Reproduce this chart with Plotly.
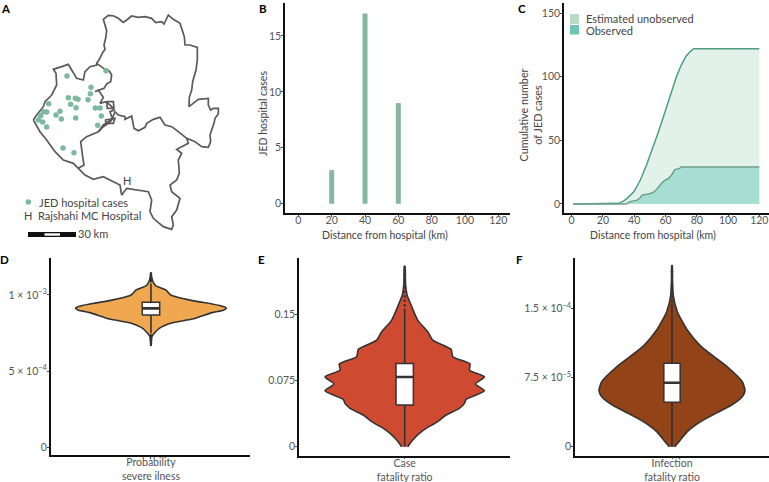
import plotly.graph_objects as go

W, H = 769, 482
FONT = "Lato"
DARK = "#333333"
GREY = "#555555"
MAP = "#5A5A5A"

# Panel A: map (coordinates in map units)
outline = [(100,360),(110,345),(130,320),(135,305),(155,285),(170,255),(168,220),(160,208),(185,200),(205,193),(215,210),(230,235),(250,240),(255,215),(270,200),(290,195),
           (290,190),(298,178),(308,158),(315,148),(312,135),(317,115),(320,92),(312,68),(310,58),(325,46),(342,48),(355,55),(370,67),(380,60),(395,48),(415,52),(435,50),(455,55),(467,68),(485,65),(492,72),(505,45),(520,58),(540,70),(547,90),(553,110),(555,135),(570,135),(592,142),(592,180),(588,210),(578,245),(575,270),(568,292),(567,320),(580,310),(595,298),(625,295),(625,315),(632,330),(640,325),(655,325),(655,342),(645,355),(642,370),(635,390),(630,405),(632,425),(625,442),(605,440),(585,425),(560,415),
           (565,430),(530,448),(545,460),(535,480),(538,520),(530,540),(510,555),(515,575),(540,595),(530,630),(515,650),(520,675),(515,688),(490,680),(460,655),(450,635),(455,600),(445,575),(415,570),(380,565),(365,585),(360,555),(340,545),(310,530),(280,538),(255,525),(235,505),(220,490),(190,480),(165,455),(140,420),(120,395),(100,360)]
inner_south = [(235,505),(252,495),(248,470),(242,425),(260,410),(295,395),(310,380),(325,370),(335,360),(345,335),(355,345),(375,350),(375,358),(395,348),(402,385),(415,392),(435,382),(440,370),(460,358),(480,352),(495,375),(515,380),(535,395),(555,410),(560,415)]
inner_north = [(290,190),(315,208),(328,213),(335,225),(332,245),(320,252),(312,265),(285,275),(295,270),(310,292),(300,310),(318,305),(335,320),(342,330),(330,335),(335,350),(340,355),(310,375),(295,395)]
loop_one = [(320,305),(340,305),(342,325),(322,325),(320,305)]
loop_two = [(315,360),(345,355),(340,370),(320,370),(315,360)]
case_x = [318,201,273,271,205,226,234,264,146,212,228,286,300,180,130,140,168,122,115,184,227,304,128,293,140,189,222]
case_y = [212,228,262,281,293,295,298,299,311,313,323,324,324,334,335,336,345,347,360,357,354,348,366,376,381,444,458]

# Panel B
bar_x = [20, 40, 60]
bar_y = [3, 17, 9]

# Panel C
est_x = [1,28,30,33,36,40,44,48,52,55,58,61,64,67,70,73,76,78,120]
est_y = [0,0,0.5,2,5,10,19,31,44,55,66,77,89,100,109,116,120,122,122]
obs_x = [1,35,36,38,42,44,45,48,50,52,54,56,58,60,62,64,66,69,70,120]
obs_y = [0,0,1,2,3,5,7,7.5,8,9,11,14,17,19,20,23,27,28,29,29]

# Panels D-F: violin profiles (value, relative density) and box statistics
d_val = [.672e-3,.726e-3,.748e-3,.781e-3,.818e-3,.842e-3,.884e-3,.90e-3,.912e-3,.924e-3,.941e-3,.963e-3,1.0e-3,1.033e-3,1.059e-3,1.087e-3,1.109e-3,1.142e-3]
d_den = [0,.013,.044,.11,.285,.548,.811,.96,1,.96,.811,.548,.263,.197,.066,.026,.013,0]
d_box = dict(q1=.869e-3, med=.912e-3, q3=.952e-3, lo=.748e-3, hi=1.076e-3)
d_out = [.672e-3,.682e-3,.695e-3,.71e-3,.725e-3,.735e-3,1.09e-3,1.10e-3,1.11e-3,1.12e-3,1.13e-3,1.142e-3]

e_val = [0,.0075,.0151,.0207,.0283,.0358,.0433,.049,.0535,.0633,.0709,.0791,.0867,.0935,.1018,.1101,.1206,.13,.1432,.1602,.1715,.1847,.2035]
e_den = [.038,.10,.184,.268,.414,.519,.686,.749,.77,1,.887,1,.812,.82,.603,.582,.351,.289,.163,.08,.03,.01,.004]
e_box = dict(q1=.0471, med=.0788, q3=.0942, lo=0, hi=.1564)
e_out = [.16,.165,.17,.175,.18,.185,.19,.195,.2,.2035]

f_val = [0,5.4e-6,1.63e-5,2.71e-5,3.79e-5,4.45e-5,5.42e-5,6.07e-5,7.05e-5,8.67e-5,1.091e-4,1.265e-4,1.464e-4,1.626e-4,1.807e-4,1.959e-4]
f_den = [.037,.096,.21,.393,.644,.804,.963,1,.963,.758,.393,.21,.073,.02,.006,.003]
f_box = dict(q1=4.81e-5, med=6.94e-5, q3=9.04e-5, lo=0, hi=1.554e-4)
f_out = [1.58e-4,1.62e-4,1.66e-4,1.7e-4,1.74e-4,1.78e-4,1.82e-4,1.86e-4,1.9e-4,1.93e-4,1.959e-4]


def dx(a, b):
    return [a / W, b / W]


def dy(top, bottom):
    return [1 - bottom / H, 1 - top / H]


FS = 10.5
fig = go.Figure()
axis_common = dict(showline=True, linecolor="#111111", linewidth=1.5, showgrid=False, zeroline=False,
                   ticks="outside", ticklen=2, tickwidth=1, tickcolor="#444444",
                   tickfont=dict(family=FONT, size=FS, color=GREY))

# --- A
for part in [outline, inner_south, inner_north, loop_one, loop_two]:
    fig.add_trace(go.Scatter(x=[p[0] for p in part], y=[p[1] for p in part], mode="lines",
                             line=dict(color=MAP, width=1.7), xaxis="x", yaxis="y", showlegend=False))
fig.add_trace(go.Scatter(x=case_x, y=case_y, mode="markers", marker=dict(color="#7DB99F", size=5.5), xaxis="x", yaxis="y", showlegend=False))
fig.add_trace(go.Scatter(x=[85], y=[606], mode="markers", marker=dict(color="#7DB99F", size=5.5), xaxis="x", yaxis="y", showlegend=False))

# --- B
fig.add_trace(go.Bar(x=bar_x, y=bar_y, width=3, marker=dict(color="#84B89E", line_width=0), xaxis="x2", yaxis="y2", showlegend=False))

# --- C
fig.add_trace(go.Scatter(x=est_x, y=est_y, mode="lines", fill="tozeroy", fillcolor="#E2F1E9", line=dict(color="#4E9C85", width=1.5), xaxis="x3", yaxis="y3", showlegend=False))
fig.add_trace(go.Scatter(x=obs_x, y=obs_y, mode="lines", fill="tozeroy", fillcolor="#A6DED3", line=dict(color="#6FA08C", width=1.5), xaxis="x3", yaxis="y3", showlegend=False))


# --- D-F
def violin(val, den, box, out, fill, boxw, n):
    xs = [d for d in den] + [-d for d in reversed(den)]
    ys = list(val) + list(reversed(val))
    xa, ya = f"x{n}", f"y{n}"
    common = dict(xaxis=xa, yaxis=ya, showlegend=False)
    fig.add_trace(go.Scatter(x=xs, y=ys, mode="lines", fill="toself", fillcolor=fill,
                             line=dict(color=DARK, width=1.6, shape="spline", smoothing=0.6), **common))
    fig.add_trace(go.Scatter(x=[0] * len(out), y=out, mode="markers", marker=dict(color=DARK, size=2.5), **common))
    # whiskers
    fig.add_trace(go.Scatter(x=[0, 0, None, 0, 0], y=[box["lo"], box["q1"], None, box["q3"], box["hi"]], mode="lines",
                             line=dict(color=DARK, width=1.6), **common))
    # box
    h = boxw / 2
    fig.add_trace(go.Scatter(x=[-h, h, h, -h, -h], y=[box["q1"], box["q1"], box["q3"], box["q3"], box["q1"]], mode="lines",
                             fill="toself", fillcolor="white", line=dict(color=DARK, width=1.5), **common))
    # median
    fig.add_trace(go.Scatter(x=[-h, h], y=[box["med"], box["med"]], mode="lines", line=dict(color=DARK, width=2.6), **common))


violin(d_val, d_den, d_box, d_out, "#EFA850", .232, 4)
violin(e_val, e_den, e_box, e_out, "#CE4B32", .2176, 5)
violin(f_val, f_den, f_box, f_out, "#934318", .224, 6)

X_NEAR = dict(ticklabelstandoff=-5)
V_NEAR = dict(ticklabelstandoff=-5)
Y_NEAR = dict(ticklabelstandoff=-2)
layout = dict(
    width=W, height=H, margin=dict(l=0, r=0, t=0, b=0, autoexpand=False), plot_bgcolor="white", paper_bgcolor="white",
    font=dict(family=FONT, size=FS, color=GREY), autosize=False,
    xaxis=dict(domain=dx(0, 240), range=[0, 720], visible=False, anchor="y"),
    yaxis=dict(domain=dy(0, 240), range=[720, 0], visible=False, anchor="x"),
    xaxis2=dict(axis_common, **X_NEAR, domain=dx(285, 510), range=[-8, 127], tickvals=[0, 20, 40, 60, 80, 100, 120], anchor="y2"),
    yaxis2=dict(axis_common, **Y_NEAR, domain=dy(3, 213), range=[-0.83, 17.95], tickvals=[0, 5, 10, 15], anchor="x2"),
    xaxis3=dict(axis_common, **X_NEAR, domain=dx(564, 769), range=[-4.9, 126.2], tickvals=[0, 20, 40, 60, 80, 100, 120], anchor="y3"),
    yaxis3=dict(axis_common, **Y_NEAR, domain=dy(3, 213), range=[-7.1, 158], tickvals=[0, 50, 100, 150], anchor="x3"),
    xaxis4=dict(axis_common, **V_NEAR, domain=dx(50.7, 250), range=[-1.329, 1.313], tickvals=[0], ticktext=["Probability<br>severe ilness"], anchor="y4"),
    yaxis4=dict(axis_common, **Y_NEAR, domain=dy(258, 455), range=[-5.05e-5, 1.2426e-3], tickvals=[0, 5e-4, 1e-3],
                ticktext=["0", "5 × 10<sup>−4</sup>", "1 × 10<sup>−3</sup>"], anchor="x4"),
    xaxis5=dict(axis_common, **V_NEAR, domain=dx(299, 510), range=[-1.326, 1.321], tickvals=[0], ticktext=["Case<br>fatality ratio"], anchor="y5"),
    yaxis5=dict(axis_common, **Y_NEAR, domain=dy(258, 455.7), range=[-.01018, .2134], tickvals=[0, .075, .15], ticktext=["0", "0.075", "0.15"], anchor="x5"),
    xaxis6=dict(axis_common, **V_NEAR, domain=dx(575, 769), range=[-1.329, 1.329], tickvals=[0], ticktext=["Infection<br>fatality ratio"], anchor="y6"),
    yaxis6=dict(axis_common, **Y_NEAR, domain=dy(258, 455.7), range=[-9.76e-6, 2.046e-4], tickvals=[0, 7.5e-5, 1.5e-4],
                ticktext=["0", "7.5 × 10<sup>−5</sup>", "1.5 × 10<sup>−4</sup>"], anchor="x6"),
)
fig.update_layout(**layout)


def note(px, py, text, size=FS + 0.5, color="#444444", bold=False, xanchor="left", angle=0):
    t = f"<b>{text}</b>" if bold else text
    fig.add_annotation(x=px / W, y=1 - py / H, xref="paper", yref="paper", text=t, showarrow=False, textangle=angle,
                       xanchor=xanchor, yanchor="middle", font=dict(family=FONT, size=size, color=color), borderpad=0, borderwidth=0)


for lab, px, py in [("A", 1, 8), ("B", 259, 8), ("C", 518, 8), ("D", 0, 259), ("E", 258, 259), ("F", 516, 259)]:
    note(px, py, lab, size=11.5, color="#000000", bold=True)

note(127, 180, "H", xanchor="center")
note(39, 202, "JED hospital cases")
note(28, 216, "H", xanchor="center")
note(38, 216, "Rajshahi MC Hospital")
note(78, 233, "30 km")
note(586, 19, "Estimated unobserved")
note(586, 30, "Observed")

# Axis titles
note(384.5, 234.5, "Distance from hospital (km)", size=10.5, xanchor="center")
note(652.5, 234.5, "Distance from hospital (km)", size=10.5, xanchor="center")
note(263, 114, "JED hospital cases", size=10.5, xanchor="center", angle=-90)
note(529.5, 115, "Cumulative number<br>of JED cases", size=10.8, xanchor="center", angle=-90)


def rect(x0, y0, x1, y1, fill):
    fig.add_shape(type="rect", xref="paper", yref="paper", x0=x0 / W, x1=x1 / W, y0=1 - y0 / H, y1=1 - y1 / H,
                  fillcolor=fill, line_width=0)


rect(570, 14, 579, 24, "#B9DCC9")
rect(570, 25, 579, 34.5, "#6FC4B5")
rect(28, 232, 76, 237, "#111111")
rect(44.5, 233.3, 60, 235.7, "#FFFFFF")

fig.write_html("out.html", config=dict(displayModeBar=False),
               post_script="document.body.style.margin='0';document.body.style.overflow='hidden';")
